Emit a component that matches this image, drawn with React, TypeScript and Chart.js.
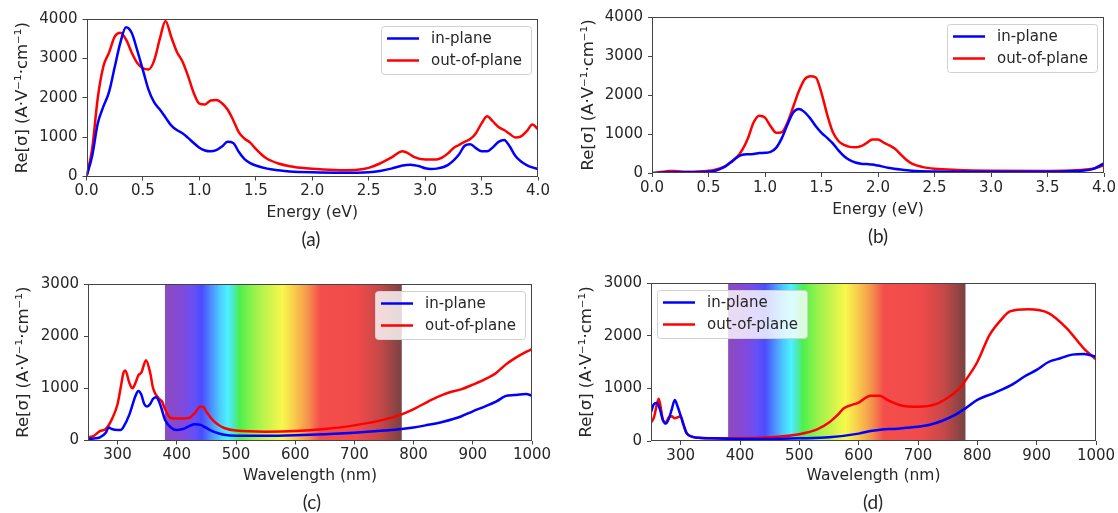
import React, { useEffect, useRef } from "react";
import { Chart, registerables } from "chart.js";

Chart.register(...registerables);

const FONT = "'DejaVu Sans', sans-serif";
const TEXT = "#262626";

// ---------- data ----------
// (a) energy spectrum
const aInX = [0, 0.05, 0.1, 0.15, 0.2, 0.25, 0.3, 0.35, 0.4, 0.45, 0.5, 0.55, 0.6, 0.65, 0.7, 0.75, 0.8, 0.85, 0.9, 0.95, 1.0, 1.05, 1.1, 1.15, 1.2, 1.25, 1.3, 1.35, 1.4, 1.45, 1.5, 1.6, 1.7, 1.8, 1.9, 2.0, 2.2, 2.4, 2.5, 2.6, 2.7, 2.8, 2.87, 2.95, 3.0, 3.05, 3.1, 3.2, 3.3, 3.35, 3.4, 3.45, 3.5, 3.55, 3.6, 3.65, 3.7, 3.75, 3.8, 3.85, 3.9, 3.95, 4.0];
const aInY = [0, 520, 1350, 1780, 2150, 2780, 3400, 3790, 3650, 3200, 2700, 2200, 1880, 1700, 1500, 1300, 1180, 1100, 980, 850, 730, 660, 640, 670, 760, 880, 850, 620, 440, 340, 280, 200, 160, 130, 115, 105, 95, 95, 105, 140, 200, 280, 300, 260, 210, 190, 200, 290, 560, 780, 820, 720, 640, 640, 740, 880, 930, 760, 520, 380, 290, 230, 190];
const aOutX = [0, 0.05, 0.1, 0.15, 0.2, 0.25, 0.3, 0.35, 0.4, 0.45, 0.5, 0.55, 0.6, 0.65, 0.7, 0.75, 0.8, 0.85, 0.9, 0.95, 1.0, 1.05, 1.1, 1.15, 1.2, 1.25, 1.3, 1.35, 1.4, 1.45, 1.5, 1.55, 1.6, 1.7, 1.8, 1.9, 2.0, 2.2, 2.3, 2.4, 2.5, 2.6, 2.7, 2.8, 2.85, 2.9, 3.0, 3.1, 3.15, 3.2, 3.25, 3.3, 3.35, 3.4, 3.45, 3.5, 3.55, 3.6, 3.65, 3.7, 3.75, 3.8, 3.85, 3.9, 3.95, 4.0];
const aOutY = [0, 700, 2000, 2800, 3150, 3550, 3650, 3480, 3150, 2880, 2750, 2720, 2950, 3500, 3950, 3550, 3170, 2920, 2550, 2120, 1850, 1830, 1930, 1940, 1860, 1700, 1430, 1120, 960, 860, 700, 560, 450, 330, 260, 220, 195, 165, 160, 170, 220, 330, 480, 640, 590, 500, 430, 430, 480, 580, 720, 800, 880, 950, 1100, 1350, 1530, 1400, 1260, 1180, 1080, 990, 1020, 1150, 1320, 1200];

// (b) energy spectrum
const bInX = [0, 0.2, 0.4, 0.5, 0.55, 0.6, 0.65, 0.7, 0.75, 0.8, 0.85, 0.9, 0.95, 1.0, 1.05, 1.1, 1.15, 1.2, 1.25, 1.3, 1.35, 1.4, 1.45, 1.5, 1.55, 1.6, 1.65, 1.7, 1.75, 1.8, 1.85, 1.9, 1.95, 2.0, 2.1, 2.2, 2.3, 2.5, 3.0, 3.5, 3.7, 3.8, 3.9, 4.0];
const bInY = [0, 20, 20, 30, 50, 100, 170, 280, 400, 470, 480, 490, 510, 520, 540, 650, 900, 1250, 1550, 1640, 1560, 1400, 1200, 1030, 900, 760, 580, 430, 330, 270, 240, 230, 220, 190, 130, 90, 60, 40, 30, 30, 45, 60, 100, 250];
const bOutX = [0, 0.1, 0.15, 0.2, 0.3, 0.4, 0.5, 0.55, 0.6, 0.65, 0.7, 0.75, 0.8, 0.85, 0.9, 0.95, 1.0, 1.05, 1.1, 1.15, 1.2, 1.25, 1.3, 1.35, 1.4, 1.45, 1.5, 1.55, 1.6, 1.65, 1.7, 1.75, 1.8, 1.85, 1.9, 1.95, 2.0, 2.05, 2.1, 2.15, 2.2, 2.25, 2.3, 2.4, 2.5, 2.7, 3.0, 3.5, 3.8, 3.9, 4.0];
const bOutY = [0, 30, 50, 50, 30, 40, 60, 80, 120, 180, 280, 400, 600, 900, 1300, 1470, 1420, 1200, 1030, 1050, 1300, 1700, 2100, 2400, 2480, 2450, 2050, 1500, 1050, 820, 720, 670, 660, 690, 770, 860, 860, 780, 710, 620, 480, 340, 240, 150, 110, 80, 60, 50, 80, 110, 200];

// (c) wavelength spectrum
const cInX = [250, 260, 270, 280, 285, 290, 300, 305, 310, 320, 330, 335, 340, 345, 350, 355, 360, 365, 370, 375, 380, 390, 400, 410, 420, 430, 440, 450, 460, 470, 480, 500, 550, 600, 650, 700, 750, 780, 800, 820, 850, 880, 900, 920, 940, 955, 970, 990, 1000];
const cInY = [30, 40, 60, 150, 250, 220, 200, 200, 260, 500, 850, 950, 880, 700, 650, 700, 800, 830, 750, 580, 400, 250, 200, 220, 270, 310, 300, 240, 180, 140, 110, 90, 90, 100, 120, 150, 190, 220, 250, 290, 360, 460, 560, 650, 750, 850, 870, 890, 860];
const cOutX = [250, 260, 270, 280, 290, 300, 305, 310, 313, 320, 325, 330, 335, 340, 348, 355, 360, 370, 375, 380, 390, 400, 420, 430, 440, 445, 450, 460, 470, 480, 500, 550, 600, 650, 700, 750, 780, 800, 830, 850, 860, 880, 900, 920, 940, 955, 970, 990, 1000];
const cOutY = [60, 90, 180, 220, 400, 700, 1000, 1300, 1340, 1100, 1000, 1100, 1250, 1300, 1540, 1300, 1000, 800, 750, 600, 430, 420, 430, 520, 650, 640, 550, 400, 300, 240, 190, 170, 180, 220, 290, 400, 500, 600, 780, 880, 920, 980, 1070, 1170, 1300, 1450, 1570, 1700, 1750];

// (d) wavelength spectrum
const dInX = [250, 255, 260, 265, 270, 275, 280, 285, 290, 295, 300, 305, 310, 320, 330, 350, 400, 450, 500, 550, 600, 620, 640, 660, 680, 700, 720, 740, 760, 780, 800, 830, 860, 880, 900, 920, 940, 960, 980, 1000];
const dInY = [550, 700, 720, 600, 400, 330, 420, 600, 780, 650, 480, 300, 150, 80, 60, 50, 40, 40, 50, 70, 140, 190, 220, 230, 250, 270, 310, 380, 480, 620, 780, 920, 1080, 1230, 1350, 1500, 1570, 1640, 1650, 1600];
const dOutX = [250, 255, 260, 263, 267, 270, 275, 280, 285, 290, 295, 300, 305, 310, 320, 330, 350, 400, 450, 500, 530, 550, 565, 575, 600, 620, 635, 650, 670, 700, 730, 750, 770, 780, 800, 820, 840, 855, 885, 920, 950, 980, 1000];
const dOutY = [350, 450, 700, 800, 600, 400, 350, 450, 470, 430, 450, 470, 300, 150, 80, 60, 50, 50, 70, 130, 220, 350, 500, 620, 730, 860, 860, 770, 680, 650, 700, 820, 1000, 1150, 1500, 2000, 2300, 2460, 2500, 2430, 2150, 1750, 1550];

const energyTicks = [0, 0.5, 1.0, 1.5, 2.0, 2.5, 3.0, 3.5, 4.0];
const wavelengthTicks = [300, 400, 500, 600, 700, 800, 900, 1000];
const sigmaTicks4000 = [0, 1000, 2000, 3000, 4000];
const sigmaTicks3000 = [0, 1000, 2000, 3000];
const seriesLabels = ["in-plane", "out-of-plane"];
const seriesColors = ["#0000ff", "#ff0000"];
const visibleRange = [380, 780];
const spectrumStops: [number, string][] = [
  [380, "#8c4bbf"], [410, "#8249dc"], [430, "#6450f8"], [442, "#4b4bff"],
  [458, "#508cff"], [472, "#4cc8ff"], [486, "#4cf2ff"], [494, "#4ce8d0"],
  [506, "#4cf04c"], [530, "#96f24c"], [560, "#d6f44c"], [578, "#f8f84c"],
  [600, "#f8c84c"], [622, "#f4924c"], [642, "#f44e4c"], [705, "#f04a4a"],
  [745, "#c44848"], [780, "#784242"],
];

const yTitle = "Re[σ] (A·V⁻¹·cm⁻¹)";

type Rect = { left: number; top: number; w: number; h: number };
type Area = { left: number; top: number; right: number; bottom: number };
type PanelDef = {
  canvas: Rect;
  area: Area;
  titleX: number;
  titleY: number;
  xTitle: string;
  xMin: number;
  xMax: number;
  xTicks: number[];
  xDecimals: number;
  yMax: number;
  yTicks: number[];
  series: { x: number[]; y: number[] }[];
  legendSide: "left" | "right";
  spectrum: boolean;
  tag: string;
  tagX: number;
  tagY: number;
};

const panels: PanelDef[] = [
  {
    canvas: { left: 0, top: 0, w: 559, h: 256 },
    area: { left: 86.5, top: 19, right: 538, bottom: 176.5 },
    titleX: 23, titleY: 212.7, xTitle: "Energy (eV)",
    xMin: 0, xMax: 4, xTicks: energyTicks, xDecimals: 1,
    yMax: 4000, yTicks: sigmaTicks4000,
    series: [{ x: aInX, y: aInY }, { x: aOutX, y: aOutY }],
    legendSide: "right", spectrum: false, tag: "(a)", tagX: 311, tagY: 238,
  },
  {
    canvas: { left: 559, top: 0, w: 559, h: 256 },
    area: { left: 652, top: 17, right: 1104, bottom: 173 },
    titleX: 589, titleY: 209.5, xTitle: "Energy (eV)",
    xMin: 0, xMax: 4, xTicks: energyTicks, xDecimals: 1,
    yMax: 4000, yTicks: sigmaTicks4000,
    series: [{ x: bInX, y: bInY }, { x: bOutX, y: bOutY }],
    legendSide: "right", spectrum: false, tag: "(b)", tagX: 878, tagY: 235,
  },
  {
    canvas: { left: 0, top: 256, w: 559, h: 257 },
    area: { left: 88, top: 284, right: 532, bottom: 440.5 },
    titleX: 24, titleY: 475.7, xTitle: "Wavelength (nm)",
    xMin: 250, xMax: 1000, xTicks: wavelengthTicks, xDecimals: 0,
    yMax: 3000, yTicks: sigmaTicks3000,
    series: [{ x: cInX, y: cInY }, { x: cOutX, y: cOutY }],
    legendSide: "right", spectrum: true, tag: "(c)", tagX: 312, tagY: 501,
  },
  {
    canvas: { left: 559, top: 256, w: 559, h: 257 },
    area: { left: 651, top: 283, right: 1096, bottom: 441 },
    titleX: 587, titleY: 476, xTitle: "Wavelength (nm)",
    xMin: 250, xMax: 1000, xTicks: wavelengthTicks, xDecimals: 0,
    yMax: 3000, yTicks: sigmaTicks3000,
    series: [{ x: dInX, y: dInY }, { x: dOutX, y: dOutY }],
    legendSide: "left", spectrum: true, tag: "(d)", tagX: 873, tagY: 501,
  },
];

const TICK_SIZE = 15;
const TITLE_SIZE = 15.5;
const TITLE_LH = TITLE_SIZE * 1.2;
const YTITLE_SIZE = 16.5;
const YTITLE_LH = YTITLE_SIZE * 1.2;
const LEGEND_SIZE = 15;

function Panel({ def }: { def: PanelDef }) {
  const ref = useRef<HTMLCanvasElement | null>(null);

  useEffect(() => {
    const canvas = ref.current;
    if (!canvas) return;
    const c = def.canvas;
    const a = def.area;
    const padLeft = def.titleX - YTITLE_LH / 2 - c.left;
    const yWidth = a.left - c.left - padLeft;
    const padTop = a.top - c.top;
    const padRight = c.left + c.w - a.right;
    const xHeight = def.titleY - a.bottom + TITLE_LH / 2;
    const padBottom = c.top + c.h - a.bottom - xHeight;

    const decor = {
      id: "decor",
      beforeDatasetsDraw(chart: any) {
        if (!def.spectrum) return;
        const { ctx, chartArea } = chart;
        const xs = chart.scales.x;
        const x0 = xs.getPixelForValue(visibleRange[0]);
        const x1 = xs.getPixelForValue(visibleRange[1]);
        const g = ctx.createLinearGradient(x0, 0, x1, 0);
        const span = visibleRange[1] - visibleRange[0];
        spectrumStops.forEach(([wl, col]) => g.addColorStop((wl - visibleRange[0]) / span, col));
        ctx.save();
        ctx.fillStyle = g;
        ctx.fillRect(x0, chartArea.top, x1 - x0, chartArea.bottom - chartArea.top);
        ctx.restore();
      },
      afterDatasetsDraw(chart: any) {
        const { ctx, chartArea } = chart;
        ctx.save();
        ctx.strokeStyle = "#444";
        ctx.lineWidth = 1;
        const l = Math.round(chartArea.left) + 0.5;
        const t = Math.round(chartArea.top) + 0.5;
        const r = Math.round(chartArea.right) - 0.5;
        const b = Math.round(chartArea.bottom) - 0.5;
        ctx.strokeRect(l, t, r - l, b - t);
        ctx.restore();
      },
      afterDraw(chart: any) {
        const { ctx, chartArea } = chart;
        const w = 150;
        const h = 48;
        const x = def.legendSide === "right" ? Math.round(chartArea.right - 7 - w) : Math.round(chartArea.left + 6);
        const y = Math.round(chartArea.top + 7);
        ctx.save();
        ctx.beginPath();
        if (ctx.roundRect) ctx.roundRect(x + 0.5, y + 0.5, w, h, 3);
        else ctx.rect(x + 0.5, y + 0.5, w, h);
        ctx.fillStyle = "rgba(255,255,255,0.8)";
        ctx.fill();
        ctx.strokeStyle = "#d0d0d0";
        ctx.lineWidth = 1;
        ctx.stroke();
        chart.data.datasets.forEach((ds: any, i: number) => {
          const cy = y + 12.5 + i * 22;
          ctx.strokeStyle = ds.borderColor;
          ctx.lineWidth = 2.5;
          ctx.beginPath();
          ctx.moveTo(x + 6, cy);
          ctx.lineTo(x + 38, cy);
          ctx.stroke();
          ctx.fillStyle = TEXT;
          ctx.font = `${LEGEND_SIZE}px ${FONT}`;
          ctx.textBaseline = "middle";
          ctx.textAlign = "left";
          ctx.fillText(ds.label, x + 50, cy + 1);
        });
        ctx.restore();
      },
    };

    const chart = new Chart(canvas, {
      type: "line",
      data: {
        datasets: def.series.map((s, i) => ({
          label: seriesLabels[i],
          data: s.x.map((xv, k) => ({ x: xv, y: s.y[k] })),
          borderColor: seriesColors[i],
          backgroundColor: seriesColors[i],
          borderWidth: 2.5,
          pointRadius: 0,
          fill: false,
          cubicInterpolationMode: "monotone" as const,
        })),
      },
      options: {
        animation: false,
        responsive: false,
        maintainAspectRatio: false,
        devicePixelRatio: 1,
        layout: { padding: { left: padLeft, top: padTop, right: padRight, bottom: padBottom } },
        plugins: { legend: { display: false }, tooltip: { enabled: false } },
        scales: {
          x: {
            type: "linear",
            min: def.xMin,
            max: def.xMax,
            afterBuildTicks: (scale: any) => {
              scale.ticks = def.xTicks.map((v) => ({ value: v }));
            },
            afterFit: (scale: any) => {
              scale.height = xHeight;
            },
            ticks: {
              autoSkip: false,
              maxRotation: 0,
              padding: 2,
              color: TEXT,
              font: { family: FONT, size: TICK_SIZE },
              callback: (v: any) => Number(v).toFixed(def.xDecimals),
            },
            grid: { display: true, drawOnChartArea: false, drawTicks: true, tickLength: 4, color: "#444", lineWidth: 1 },
            border: { display: false },
            title: {
              display: true,
              text: def.xTitle,
              color: TEXT,
              font: { family: FONT, size: TITLE_SIZE },
              padding: 0,
            },
          },
          y: {
            type: "linear",
            min: 0,
            max: def.yMax,
            afterBuildTicks: (scale: any) => {
              scale.ticks = def.yTicks.map((v) => ({ value: v }));
            },
            afterFit: (scale: any) => {
              scale.width = yWidth;
            },
            ticks: {
              padding: 5,
              color: TEXT,
              font: { family: FONT, size: TICK_SIZE },
              callback: (v: any) => String(v),
            },
            grid: { display: true, drawOnChartArea: false, drawTicks: true, tickLength: 4, color: "#444", lineWidth: 1 },
            border: { display: false },
            title: {
              display: true,
              text: yTitle,
              color: TEXT,
              font: { family: FONT, size: YTITLE_SIZE },
              padding: 0,
            },
          },
        },
      },
      plugins: [decor],
    } as any);

    return () => chart.destroy();
  }, [def]);

  return (
    <>
      <canvas
        ref={ref}
        width={def.canvas.w}
        height={def.canvas.h}
        style={{
          position: "absolute",
          left: def.canvas.left,
          top: def.canvas.top,
          width: def.canvas.w,
          height: def.canvas.h,
        }}
      />
      <div
        style={{
          position: "absolute",
          left: def.tagX,
          top: def.tagY,
          transform: "translate(-50%, -50%)",
          fontFamily: "'Lato', 'Liberation Sans', sans-serif",
          fontSize: 19,
          color: TEXT,
          lineHeight: 1,
          whiteSpace: "nowrap",
        }}
      >
        {def.tag}
      </div>
    </>
  );
}

export default function App() {
  return (
    <div
      style={{
        position: "absolute",
        left: 0,
        top: 0,
        width: 1118,
        height: 513,
        background: "#ffffff",
        overflow: "hidden",
      }}
    >
      {panels.map((p) => (
        <Panel key={p.tag} def={p} />
      ))}
    </div>
  );
}
